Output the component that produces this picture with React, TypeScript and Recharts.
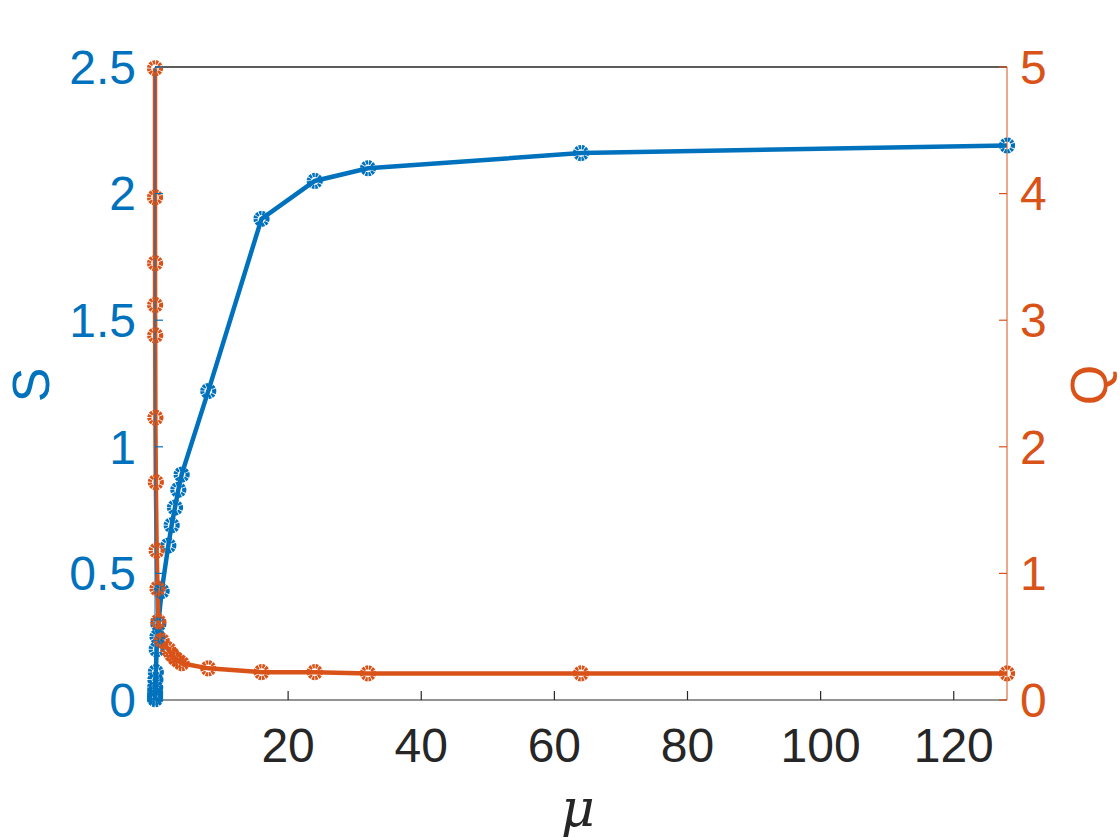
import { LineChart, Line, XAxis, YAxis, ReferenceLine } from 'recharts'

const muValues = [0.002, 0.004, 0.008, 0.016, 0.03, 0.06, 0.125, 0.25, 0.375, 0.5, 1, 2, 2.5, 3, 3.5, 4, 8, 16, 24, 32, 64, 128]
const sValues = [0.003, 0.01, 0.02, 0.03, 0.05, 0.08, 0.11, 0.2, 0.25, 0.3, 0.43, 0.61, 0.69, 0.76, 0.83, 0.89, 1.22, 1.9, 2.05, 2.1, 2.16, 2.19]
const qValues = [4.99, 3.97, 3.45, 3.12, 2.88, 2.23, 1.72, 1.18, 0.88, 0.62, 0.47, 0.4, 0.36, 0.33, 0.31, 0.29, 0.25, 0.22, 0.22, 0.21, 0.21, 0.21]

const xTicks = [20, 40, 60, 80, 100, 120]
const sTicks = [0, 0.5, 1, 1.5, 2, 2.5]
const qTicks = [0, 1, 2, 3, 4, 5]

const BLUE = '#0072BD'
const ORANGE = '#D95319'
const DARK = '#262626'
const FONT = '"Liberation Sans", Arial, Helvetica, sans-serif'

// plot box in pixels
const LEFT = 155
const RIGHT = 1007
const TOP = 67
const BOTTOM = 700

const data = muValues.map((mu, i) => ({ mu, S: sValues[i], Q: qValues[i] }))

function ringDot(color: string) {
  return (props: any) => {
    const { cx, cy, index } = props
    if (cx == null || cy == null) return <g key={index} />
    return (
      <circle
        key={index}
        cx={cx}
        cy={cy}
        r={6}
        fill="none"
        stroke={color}
        strokeWidth={4.2}
        strokeDasharray="2.4 0.75"
      />
    )
  }
}

const XTick = (props: any) => {
  const { x, payload } = props
  return (
    <g>
      <line x1={x} x2={x} y1={BOTTOM} y2={BOTTOM - 9} stroke={DARK} strokeWidth={1.2} />
      <text x={x} y={745} textAnchor="middle" dy="0.35em" fill={DARK} fontSize={48} fontFamily={FONT}>
        {payload.value}
      </text>
    </g>
  )
}

const LeftTick = (props: any) => {
  const { y, payload } = props
  return (
    <g>
      <line x1={LEFT} x2={LEFT + 8} y1={y} y2={y} stroke={BLUE} strokeWidth={1.2} />
      <text x={136} y={y} textAnchor="end" dy="0.35em" fill={BLUE} fontSize={48} fontFamily={FONT}>
        {payload.value}
      </text>
    </g>
  )
}

const RightTick = (props: any) => {
  const { y, payload } = props
  return (
    <g>
      <line x1={RIGHT} x2={RIGHT - 8} y1={y} y2={y} stroke={ORANGE} strokeWidth={1.2} />
      <text x={1020} y={y} textAnchor="start" dy="0.35em" fill={ORANGE} fontSize={48} fontFamily={FONT}>
        {payload.value}
      </text>
    </g>
  )
}

export default function App() {
  return (
    <div style={{ position: 'absolute', left: 0, top: 0, background: '#fff' }}>
      <LineChart
        width={1120}
        height={840}
        data={data}
        margin={{ top: TOP, right: 0, bottom: 0, left: 0 }}
      >
        <XAxis
          dataKey="mu"
          type="number"
          domain={[0, 128]}
          ticks={xTicks}
          interval={0}
          height={840 - BOTTOM}
          stroke={DARK}
          tickLine={false}
          tick={<XTick />}
        />
        <YAxis
          yAxisId="left"
          orientation="left"
          domain={[0, 2.5]}
          ticks={sTicks}
          interval={0}
          width={LEFT}
          stroke={BLUE}
          tickLine={false}
          tick={<LeftTick />}
        />
        <YAxis
          yAxisId="right"
          orientation="right"
          domain={[0, 5]}
          ticks={qTicks}
          interval={0}
          width={1120 - RIGHT}
          stroke={ORANGE}
          tickLine={false}
          tick={<RightTick />}
        />
        <ReferenceLine yAxisId="left" y={2.5} stroke={DARK} strokeWidth={1.4} strokeOpacity={1} />
        <Line
          yAxisId="left"
          dataKey="S"
          stroke={BLUE}
          strokeWidth={4.5}
          dot={ringDot(BLUE)}
          isAnimationActive={false}
        />
        <Line
          yAxisId="right"
          dataKey="Q"
          stroke={ORANGE}
          strokeWidth={4.5}
          dot={ringDot(ORANGE)}
          isAnimationActive={false}
        />
        <text x={31} y={385} transform="rotate(-90 31 385)" textAnchor="middle" dy="0.35em" fill={BLUE} fontSize={52} fontFamily={FONT}>
          S
        </text>
        <text x={1089} y={385} transform="rotate(-90 1089 385)" textAnchor="middle" dy="0.35em" fill={ORANGE} fontSize={52} fontFamily={FONT}>
          Q
        </text>
        <text x={578} y={810} textAnchor="middle" dy="0.3em" fill={DARK} fontSize={52} fontStyle="italic" fontFamily='"DejaVu Serif", "Liberation Serif", serif'>
          μ
        </text>
      </LineChart>
    </div>
  )
}
